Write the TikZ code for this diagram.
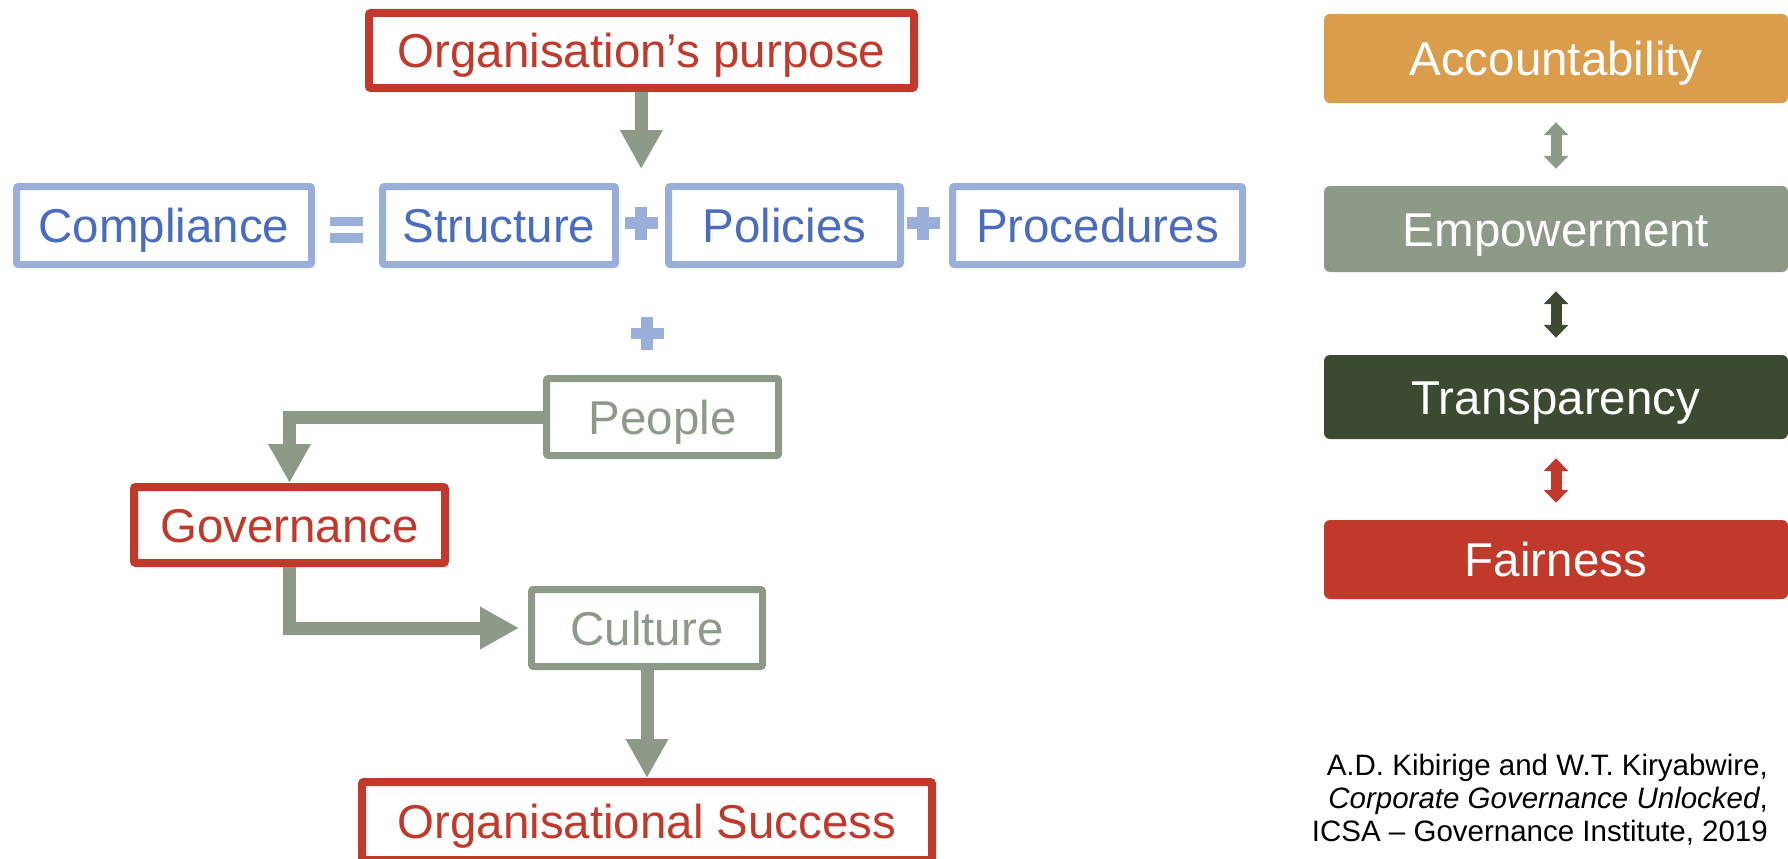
\documentclass[tikz,border=0pt]{standalone}
\usepackage{fontspec}
\setmainfont{Liberation Sans}
\usetikzlibrary{arrows.meta}
\definecolor{cred}{HTML}{C0392B}
\definecolor{cblueb}{HTML}{9AAEDA}
\definecolor{cbluet}{HTML}{4A6CBE}
\definecolor{cgrey}{HTML}{8E9A88}
\definecolor{corange}{HTML}{DA9D4B}
\definecolor{cdark}{HTML}{3B4A30}
\newcommand\drawplus[1]{%
  \fill[cblueb] ([yshift=5.75pt]#1.west) rectangle ([yshift=-5.75pt]#1.east);
  \fill[cblueb] ([xshift=-5.75pt]#1.north) rectangle ([xshift=5.75pt]#1.south);}
\begin{document}
\begin{tikzpicture}[x=1pt,y=-1pt,
  box/.style={rectangle, rounded corners=2pt, fill=white, inner sep=0pt,
    font=\fontsize{47.5}{56}\selectfont, text height=34pt, text depth=0pt},
  redbox/.style={box, draw=cred, line width=8pt, text=cred},
  bluebox/.style={box, draw=cblueb, line width=7pt, text=cbluet, minimum height=78pt},
  greybox/.style={box, draw=cgrey, line width=7pt, text=cgrey, minimum height=77pt},
  valbox/.style={rectangle, rounded corners=6pt, inner sep=0pt, minimum width=464pt,
    text=white, font=\fontsize{47.5}{56}\selectfont, text height=34pt, text depth=0pt},
  conn/.style={draw=cgrey, line width=13pt, -{Triangle[width=40pt 0 0, length=39pt 0 0]}},
  dblarrow/.style={line width=11pt, shorten <=19pt, shorten >=17pt,
    {Triangle[width=24pt 0 0,length=13pt 0 0]}-{Triangle[width=24pt 0 0,length=13pt 0 0]}},
  sign/.style={inner sep=0pt, outer sep=0pt, minimum size=33pt},
  cite/.style={anchor=base east, inner sep=0pt, font=\fontsize{29.5}{33}\selectfont}
]
\useasboundingbox (0,0) rectangle (1788,859);
\clip (0,0) rectangle (1788,859);
\fill[white] (0,0) rectangle (1788,859);

% left flow
\node[redbox, minimum width=545pt, minimum height=75pt] (purpose) at (641.5,50.5) {Organisation’s purpose};
\node[bluebox, minimum width=295pt] (compl) at (164,225.5) {Compliance};
\node[bluebox, minimum width=233pt] (struct) at (499,225.5) {Structure};
\node[bluebox, minimum width=232pt] (pol) at (784.5,225.5) {Policies};
\node[bluebox, minimum width=290pt] (proc) at (1097.5,225.5) {Procedures};
\node[greybox, minimum width=232pt] (people) at (662.5,417) {People};
\node[redbox, minimum width=311pt, minimum height=76pt] (gov) at (289.5,525) {Governance};
\node[greybox, minimum width=231pt] (culture) at (647,628) {Culture};
\node[redbox, minimum width=570pt, minimum height=78pt] (success) at (647,821) {Organisational Success};

% signs
\node[sign, minimum height=26pt] (eq) at (346.5,230) {};
\fill[cblueb] (eq.north west) rectangle ([yshift=-9pt]eq.north east);
\fill[cblueb] ([yshift=10pt]eq.south west) rectangle (eq.south east);
\node[sign] (plus1) at (641,223) {};
\node[sign] (plus2) at (923,223) {};
\node[sign] (plus3) at (647,333.5) {};
\drawplus{plus1}
\drawplus{plus2}
\drawplus{plus3}

% connectors
\draw[conn, shorten >=37.5pt] (purpose.south) -- (plus1.north);
\draw[conn] (people.west) -| (gov.north);
\draw[conn, shorten >=9pt] (gov.south) |- (culture.west);
\draw[conn] (culture.south) -- (success.north);

% right column
\node[valbox, fill=corange, minimum height=89pt] (acc) at (1556,58.5) {Accountability};
\node[valbox, fill=cgrey, minimum height=86pt] (emp) at (1556,229) {Empowerment};
\node[valbox, fill=cdark, minimum height=84pt] (trans) at (1556,397) {Transparency};
\node[valbox, fill=cred, minimum height=79pt] (fair) at (1556,559.5) {Fairness};
\draw[dblarrow, draw=cgrey, fill=cgrey] (acc.south) -- (emp.north);
\draw[dblarrow, draw=cdark, fill=cdark] (emp.south) -- (trans.north);
\draw[dblarrow, draw=cred, fill=cred] (trans.south) -- (fair.north);

% citation
\node[cite] (cite1) at (1768,775) {A.D. Kibirige and W.T. Kiryabwire,};
\node[cite] (cite2) at (1768,808) {\textit{Corporate Governance Unlocked},};
\node[cite] (cite3) at (1768,841) {ICSA – Governance Institute, 2019};
\end{tikzpicture}
\end{document}
